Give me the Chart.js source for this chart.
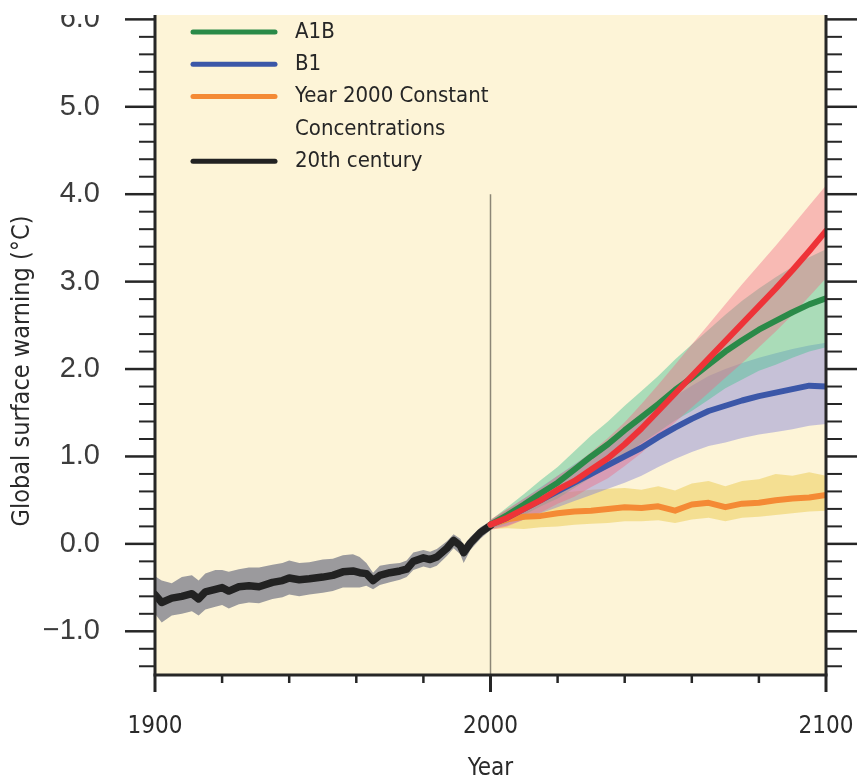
<!DOCTYPE html>
<html>
<head>
<meta charset="utf-8">
<script src="https://cdn.jsdelivr.net/npm/chart.js@4.4.1/dist/chart.umd.min.js"></script>
<style>
  html, body { margin: 0; padding: 0; background: #ffffff; }
  #wrap { width: 857px; height: 779px; }
</style>
</head>
<body>
<div id="wrap"><canvas id="chart" width="857" height="779"></canvas></div>
<script>
// ---------------------------------------------------------
// Datos
// ---------------------------------------------------------
const histYears = [1900, 1902, 1905, 1908, 1911, 1913, 1915, 1918, 1920, 1922, 1925, 1928, 1931, 1935, 1938, 1940,
    1943, 1946, 1950, 1953, 1956, 1959, 1961, 1963, 1965, 1967, 1970, 1973, 1975, 1977, 1980, 1982, 1984, 1987,
    1989, 1991, 1992, 1994, 1997, 2000];
const histMean = [-0.58, -0.67, -0.62, -0.60, -0.57, -0.63, -0.55, -0.52, -0.50, -0.54, -0.49, -0.48, -0.49, -0.44,
    -0.42, -0.39, -0.41, -0.40, -0.38, -0.36, -0.32, -0.31, -0.33, -0.34, -0.42, -0.36, -0.33, -0.31, -0.29, -0.20,
    -0.16, -0.18, -0.15, -0.05, 0.04, -0.02, -0.10, 0.01, 0.13, 0.21];
const histHigh = [-0.37, -0.42, -0.45, -0.38, -0.36, -0.42, -0.34, -0.30, -0.30, -0.32, -0.29, -0.27, -0.27, -0.24,
    -0.22, -0.19, -0.22, -0.21, -0.18, -0.17, -0.13, -0.12, -0.15, -0.22, -0.33, -0.25, -0.23, -0.22, -0.19, -0.10,
    -0.07, -0.09, -0.06, 0.03, 0.11, 0.06, -0.02, 0.08, 0.19, 0.26];
const histLow = [-0.80, -0.90, -0.82, -0.80, -0.77, -0.82, -0.75, -0.72, -0.70, -0.74, -0.69, -0.67, -0.68, -0.63,
    -0.61, -0.58, -0.60, -0.58, -0.56, -0.54, -0.50, -0.50, -0.50, -0.48, -0.52, -0.47, -0.44, -0.41, -0.38, -0.30,
    -0.26, -0.28, -0.25, -0.14, -0.05, -0.12, -0.22, -0.07, 0.06, 0.16];

const futureYears = [2000, 2005, 2010, 2015, 2020, 2025, 2030, 2035, 2040, 2045, 2050, 2055, 2060, 2065, 2070, 2075,
    2080, 2085, 2090, 2095, 2100];

const a2Mean = [0.22, 0.30, 0.40, 0.50, 0.62, 0.72, 0.85, 0.98, 1.14, 1.32, 1.52, 1.72, 1.92, 2.12, 2.32, 2.52, 2.72, 2.92, 3.13, 3.35, 3.58];
const a2High = [0.28, 0.40, 0.52, 0.64, 0.78, 0.90, 1.05, 1.21, 1.39, 1.60, 1.82, 2.05, 2.28, 2.51, 2.74, 2.97, 3.19, 3.41, 3.64, 3.87, 4.10];
const a2Low  = [0.16, 0.20, 0.28, 0.36, 0.46, 0.54, 0.65, 0.75, 0.89, 1.04, 1.22, 1.39, 1.56, 1.73, 1.90, 2.07, 2.25, 2.43, 2.62, 2.83, 3.04];

const a1bMean = [0.22, 0.33, 0.45, 0.58, 0.70, 0.85, 1.00, 1.14, 1.30, 1.45, 1.60, 1.76, 1.90, 2.05, 2.20, 2.33, 2.45, 2.55, 2.65, 2.74, 2.81];
const a1bHigh = [0.27, 0.42, 0.57, 0.73, 0.88, 1.06, 1.24, 1.40, 1.58, 1.75, 1.92, 2.11, 2.28, 2.45, 2.62, 2.78, 2.92, 3.05, 3.17, 3.28, 3.37];
const a1bLow  = [0.17, 0.24, 0.33, 0.43, 0.52, 0.64, 0.76, 0.88, 1.02, 1.15, 1.28, 1.41, 1.52, 1.65, 1.78, 1.88, 1.98, 2.05, 2.13, 2.20, 2.25];

const b1Mean = [0.22, 0.30, 0.40, 0.50, 0.60, 0.70, 0.80, 0.90, 1.00, 1.10, 1.22, 1.33, 1.43, 1.52, 1.58, 1.64, 1.69, 1.73, 1.77, 1.81, 1.80];
const b1High = [0.27, 0.39, 0.52, 0.65, 0.78, 0.91, 1.04, 1.17, 1.30, 1.42, 1.56, 1.69, 1.81, 1.92, 2.00, 2.07, 2.13, 2.18, 2.23, 2.27, 2.30];
const b1Low  = [0.17, 0.21, 0.28, 0.35, 0.42, 0.49, 0.56, 0.63, 0.70, 0.78, 0.88, 0.97, 1.05, 1.12, 1.16, 1.21, 1.25, 1.28, 1.31, 1.35, 1.37];

const constMean = [0.22, 0.28, 0.31, 0.32, 0.35, 0.37, 0.38, 0.40, 0.42, 0.41, 0.43, 0.38, 0.45, 0.47, 0.42, 0.46, 0.47, 0.50, 0.52, 0.53, 0.56];
const constHigh = [0.27, 0.40, 0.48, 0.52, 0.58, 0.60, 0.62, 0.63, 0.64, 0.62, 0.66, 0.61, 0.69, 0.72, 0.66, 0.72, 0.74, 0.80, 0.78, 0.82, 0.78];
const constLow  = [0.17, 0.18, 0.17, 0.19, 0.20, 0.22, 0.23, 0.24, 0.26, 0.26, 0.27, 0.24, 0.28, 0.30, 0.26, 0.30, 0.31, 0.33, 0.35, 0.37, 0.38];

const xTickValues = [1900, 2000, 2100];
const yTickValues = [-1, 0, 1, 2, 3, 4, 5, 6];
const legendText = [['A1B'], ['B1'], ['Year 2000 Constant', 'Concentrations'], ['20th century']];
const yTitle = 'Global surface warning (°C)';
const xTitle = 'Year';

// Colores
const colA1B = '#2a8a48', colB1 = '#3b57a8', colConst = '#f48a35', colHist = '#222222', colA2 = '#ee3338';
const legendColors = [colA1B, colB1, colConst, colHist];

const COND = "'DejaVu Sans Condensed', 'DejaVu Sans', sans-serif";

// ---------------------------------------------------------
// Helpers para armar datasets
// ---------------------------------------------------------
const pts = (xs, ys) => xs.map((x, i) => ({ x: x, y: ys[i] }));

function linea(label, xs, ys, color, width, order) {
    return {
        label: label, data: pts(xs, ys), borderColor: color, borderWidth: width,
        pointRadius: 0, tension: 0, fill: false, order: order,
        borderCapStyle: 'round', borderJoinStyle: 'round'
    };
}

// banda = dos datasets, el segundo rellena hasta el anterior
function banda(xs, hi, lo, color, order) {
    return [
        { label: '_hi', data: pts(xs, hi), borderWidth: 0, borderColor: 'rgba(0,0,0,0)', pointRadius: 0, tension: 0, fill: false, order: order },
        { label: '_lo', data: pts(xs, lo), borderWidth: 0, borderColor: 'rgba(0,0,0,0)', pointRadius: 0, tension: 0, fill: '-1', backgroundColor: color, order: order }
    ];
}

const datasets = [
    ...banda(histYears, histHigh, histLow, 'rgba(116,119,135,0.72)', 20),
    ...banda(futureYears, constHigh, constLow, 'rgba(236,206,90,0.55)', 19),
    ...banda(futureYears, b1High, b1Low, 'rgba(130,130,215,0.45)', 18),
    ...banda(futureYears, a1bHigh, a1bLow, 'rgba(80,195,150,0.48)', 17),
    ...banda(futureYears, a2High, a2Low, 'rgba(240,105,130,0.42)', 16),
    linea('20th century', histYears, histMean, colHist, 7.5, 5),
    linea('Year 2000 Constant Concentrations', futureYears, constMean, colConst, 6, 4),
    linea('B1', futureYears, b1Mean, colB1, 6, 3),
    linea('A1B', futureYears, a1bMean, colA1B, 6, 2),
    linea('A2', futureYears, a2Mean, colA2, 6, 1)
];

// quita el relleno que Chart.js reserva para etiquetas que sobresalen
function fijarTamano(prop, valor) {
    return s => {
        s[prop] = valor;
        s.paddingTop = 0; s.paddingBottom = 0; s.paddingLeft = 0; s.paddingRight = 0;
    };
}

// ---------------------------------------------------------
// Plugin: fondo, ejes con marcas, leyenda y títulos
// ---------------------------------------------------------
const marcoPlugin = {
    id: 'marco',
    beforeDraw(chart) {
        const { ctx, chartArea: a, scales } = chart;
        ctx.save();
        ctx.fillStyle = '#fdf4d7';
        ctx.fillRect(a.left, a.top, a.right - a.left, a.bottom - a.top);
        const x0 = scales.x.getPixelForValue(2000);
        ctx.strokeStyle = '#8c8676';
        ctx.lineWidth = 1.5;
        ctx.beginPath();
        ctx.moveTo(x0, scales.y.getPixelForValue(4));
        ctx.lineTo(x0, a.bottom);
        ctx.stroke();
        ctx.restore();
    },
    afterDraw(chart) {
        const { ctx, chartArea: a, scales } = chart;
        const seg = (x1, y1, x2, y2) => { ctx.beginPath(); ctx.moveTo(x1, y1); ctx.lineTo(x2, y2); ctx.stroke(); };
        ctx.save();
        ctx.strokeStyle = '#262626';
        ctx.lineCap = 'butt';

        // marcas del eje Y (hacia afuera en ambos lados)
        for (let k = -7; k <= 30; k++) {
            const y = scales.y.getPixelForValue(k / 5);
            const mayor = k % 5 === 0;
            ctx.lineWidth = mayor ? 2.5 : 2;
            seg(a.left - (mayor ? 30 : 16), y, a.left, y);
            seg(a.right, y, a.right + (mayor ? 31 : 16), y);
        }
        // marcas del eje X cada 20 años
        for (let yr = 1900; yr <= 2100; yr += 20) {
            const x = scales.x.getPixelForValue(yr);
            const mayor = yr % 100 === 0;
            ctx.lineWidth = mayor ? 3 : 2.5;
            seg(x, a.bottom, x, a.bottom + (mayor ? 17 : 8));
        }
        // líneas de eje
        ctx.lineWidth = 3;
        seg(a.left, a.top, a.left, a.bottom);
        seg(a.right, a.top, a.right, a.bottom);
        seg(a.left - 1.5, a.bottom, a.right + 1.5, a.bottom);

        // leyenda
        ctx.font = '22px ' + COND;
        ctx.textBaseline = 'middle';
        ctx.textAlign = 'left';
        let ly = 32;
        legendText.forEach((lineas, i) => {
            ctx.strokeStyle = legendColors[i];
            ctx.lineWidth = 5;
            ctx.lineCap = 'round';
            seg(193, ly, 275, ly);
            ctx.fillStyle = '#262626';
            lineas.forEach((t, j) => ctx.fillText(t, 295, ly + j * 32.3));
            ly += 32.3 * lineas.length;
        });

        // títulos de ejes
        ctx.fillStyle = '#2a2a2a';
        ctx.textAlign = 'center';
        ctx.font = '24px ' + COND;
        ctx.fillText(xTitle, (a.left + a.right) / 2, 769);
        ctx.save();
        ctx.translate(22, 371);
        ctx.rotate(-Math.PI / 2);
        ctx.font = '25px ' + COND;
        ctx.fillText(yTitle, 0, 0);
        ctx.restore();

        // franja blanca superior (la figura original está recortada)
        ctx.fillStyle = '#ffffff';
        ctx.fillRect(0, 0, chart.width, a.top);
        ctx.restore();
    }
};

new Chart(document.getElementById('chart'), {
    type: 'line',
    data: { datasets: datasets },
    options: {
        responsive: false,
        animation: false,
        events: [],
        layout: { padding: { top: 15, right: 31, left: 0, bottom: 0 } },
        plugins: { legend: { display: false }, tooltip: { enabled: false } },
        scales: {
            x: {
                type: 'linear', min: 1900, max: 2100,
                grid: { display: false }, border: { display: false },
                afterBuildTicks: s => { s.ticks = xTickValues.map(v => ({ value: v })); },
                afterFit: fijarTamano('height', 104),
                ticks: {
                    padding: 29, color: '#2a2a2a', maxRotation: 0,
                    font: { family: COND, size: 24 },
                    callback: v => String(v)
                }
            },
            y: {
                type: 'linear', min: -1.5, max: 6.05,
                grid: { display: false }, border: { display: false },
                afterBuildTicks: s => { s.ticks = yTickValues.map(v => ({ value: v })); },
                afterFit: fijarTamano('width', 155),
                ticks: {
                    padding: 47, color: '#3c3c3c',
                    font: { family: "'Liberation Sans', Arial, sans-serif", size: 29 },
                    callback: v => (v < 0 ? '\u2212' : '') + Math.abs(v).toFixed(1)
                }
            }
        }
    },
    plugins: [marcoPlugin]
});
</script>
</body>
</html>
